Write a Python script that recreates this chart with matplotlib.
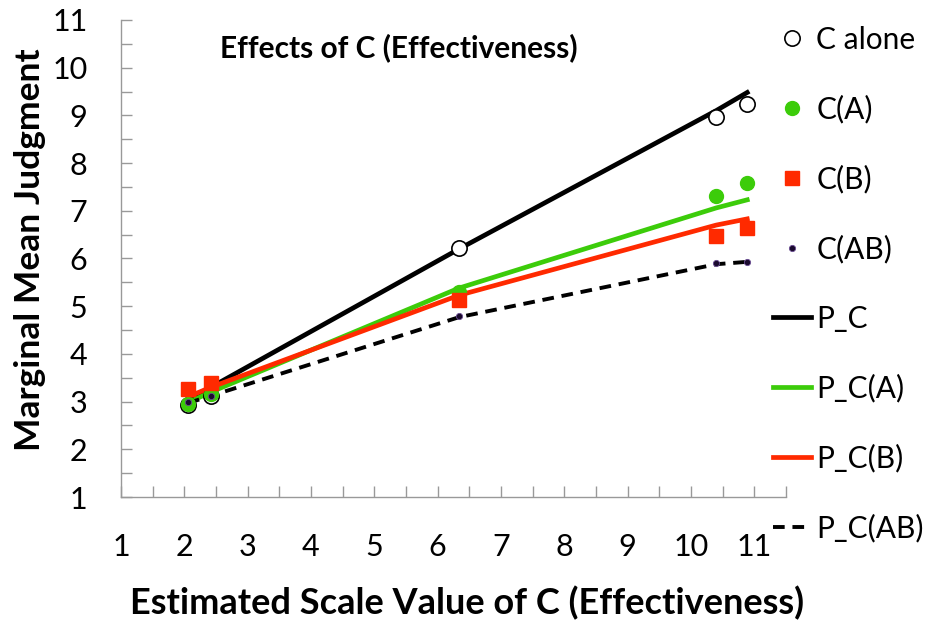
import numpy as np
import matplotlib.pyplot as plt
from matplotlib.ticker import MultipleLocator

plt.rcParams['font.family'] = ['Lato', 'DejaVu Sans']

# scale values of C on the x axis
x_vals = [2.06, 2.42, 6.34, 10.4, 10.89]

# observed marginal means
c_alone = [2.93, 3.12, 6.22, 8.97, 9.24]
c_a = [2.95, 3.15, 5.30, 7.31, 7.58]
c_b = [3.26, 3.39, 5.13, 6.47, 6.64]
c_ab = [2.99, 3.12, 4.79, 5.90, 5.93]

# model predictions
p_c = [3.05, 3.30, 6.20, 9.10, 9.48]
p_c_a = [2.98, 3.20, 5.38, 7.06, 7.23]
p_c_b = [3.10, 3.30, 5.23, 6.70, 6.83]
p_c_ab = [2.97, 3.12, 4.77, 5.88, 5.93]

fig = plt.figure(figsize=(9.3, 6.24), dpi=100)
ax = fig.add_axes([0.130, 0.2035, 0.715, 0.7645])

l1, = ax.plot(x_vals, p_c, color='black', lw=3.4, label='P_C', zorder=2)
l2, = ax.plot(x_vals, p_c_a, color='#3ccc0a', lw=3.4, label='P_C(A)', zorder=2)
l3, = ax.plot(x_vals, p_c_b, color='#ff2a00', lw=3.4, label='P_C(B)', zorder=2)
l4, = ax.plot(x_vals, p_c_ab, color='black', lw=2.8, ls=(0, (3, 2)), label='P_C(AB)', zorder=2)

m1, = ax.plot(x_vals, c_alone, 'o', ms=11, mfc='white', mec='black', mew=1.2,
              label='C alone', zorder=3)
m2, = ax.plot(x_vals, c_a, 'o', ms=10, color='#3ccc0a', label='C(A)', zorder=3)
m3, = ax.plot(x_vals, c_b, 's', ms=10, color='#ff2a00', label='C(B)', zorder=4)
m4, = ax.plot(x_vals, c_ab, 'o', ms=4.5, mfc='#1a0a2e', mec='#6a4c93', mew=0.6,
              label='C(AB)', zorder=5)

ax.set_xlim(1, 11.5)
ax.set_ylim(1, 11)
ax.xaxis.set_minor_locator(MultipleLocator(0.5))
ax.yaxis.set_major_locator(MultipleLocator(1))
ax.yaxis.set_minor_locator(MultipleLocator(0.5))
ax.set_xticks(np.arange(1, 12))
ax.tick_params(which='both', direction='in', length=8, width=1, color='#999999')
ax.tick_params(axis='x', which='major', labelsize=22, pad=26)
ax.tick_params(axis='y', which='major', labelsize=22, pad=24)

for s in ['top', 'right']:
    ax.spines[s].set_visible(False)
for s in ['left', 'bottom']:
    ax.spines[s].set_color('#999999')
    ax.spines[s].set_linewidth(1)

ax.set_xlabel('Estimated Scale Value of C (Effectiveness)', fontsize=26,
              fontweight='bold', va='center')
ax.set_ylabel('Marginal Mean Judgment', fontsize=25.5, fontweight='bold', va='center')
ax.xaxis.set_label_coords(0.52, -0.222)
ax.yaxis.set_label_coords(-0.137, 0.518)

ax.text(0.418, 0.943, 'Effects of C (Effectiveness)', transform=ax.transAxes,
        ha='center', va='center', fontsize=21.5, fontweight='bold')

fig.legend(handles=[m1, m2, m3, m4, l1, l2, l3, l4], loc='upper left',
           bbox_to_anchor=(0.825, 0.968), frameon=False, fontsize=21.5,
           labelspacing=1.38, handlelength=1.27, handletextpad=0.17,
           borderaxespad=0, borderpad=0.2)

fig.savefig('out.png', dpi=100)
